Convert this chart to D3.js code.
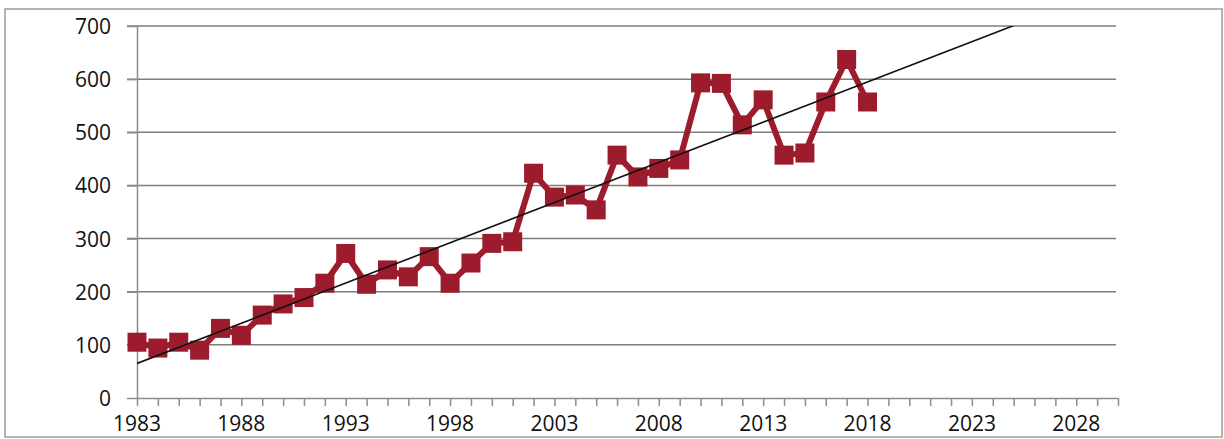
<!DOCTYPE html>
<html lang="en">
<head>
    <meta charset="UTF-8">
    <title>Trend chart</title>
    <style>
        body {
            margin: 0;
            background-color: white;
            font-family: 'Open Sans', sans-serif;
        }
        svg { display: block; }
        .frame { fill: none; stroke: #9a9a9a; stroke-width: 1.5; }
        .grid line { stroke: #7d7d7d; stroke-width: 1.5; }
        .axis line, .axis path { stroke: #8c8c8c; stroke-width: 1.5; }
        .label { font-size: 21px; fill: #111; }
    </style>
</head>
<body>
    <div id="chart"></div>

    <script src="https://d3js.org/d3.v7.min.js"></script>

    <script>
        // data
        var years = d3.range(1983, 2019);
        var values = [105, 94, 105, 90, 131, 118, 156, 177, 189, 216,
                      272, 214, 241, 228, 266, 216, 254, 291, 294, 423,
                      378, 382, 354, 457, 416, 432, 448, 593, 592, 514,
                      561, 457, 461, 557, 637, 557];
        var categories = d3.range(1983, 2031);       // axis runs on to 2030
        var xLabels = d3.range(1983, 2031, 5);       // 1983, 1988 ... 2028
        var yTicks = [0, 100, 200, 300, 400, 500, 600, 700];

        var w = 1224, h = 439;

        var svg = d3.select("#chart")
            .append("svg")
            .attr("width", w)
            .attr("height", h);

        // outer frame
        svg.append("rect")
            .attr("class", "frame")
            .attr("x", 5).attr("y", 9)
            .attr("width", 1217).attr("height", 428);

        var x = d3.scaleLinear()
            .domain([categories[0], categories[categories.length - 1]])
            .range([137, 1118]);

        var y = d3.scaleLinear()
            .domain([0, 700])
            .range([398, 26]);

        // horizontal gridlines (stick out a little left of the axis)
        svg.append("g")
            .attr("class", "grid")
            .selectAll("line")
            .data(yTicks.slice(1))
            .enter()
            .append("line")
            .attr("x1", 127)
            .attr("x2", x(categories[categories.length - 1]) - 2)
            .attr("y1", function(d) { return y(d); })
            .attr("y2", function(d) { return y(d); });

        // y axis
        var yAxis = svg.append("g")
            .attr("class", "axis")
            .attr("transform", "translate(" + x(1983) + ",0)")
            .call(d3.axisLeft(y).tickValues(yTicks).tickSize(10).tickSizeOuter(0));
        yAxis.selectAll("text").remove();

        // x axis, one tick per year
        var xAxis = svg.append("g")
            .attr("class", "axis")
            .attr("transform", "translate(0," + y(0) + ")")
            .call(d3.axisBottom(x).tickValues(categories).tickSize(8).tickSizeOuter(0));
        xAxis.selectAll("text").remove();

        // tick labels
        svg.selectAll(".ylab")
            .data(yTicks)
            .enter()
            .append("text")
            .attr("class", "label")
            .attr("x", 111)
            .attr("y", function(d) { return y(d) + 8; })
            .attr("text-anchor", "end")
            .text(function(d) { return d; });

        svg.selectAll(".xlab")
            .data(xLabels)
            .enter()
            .append("text")
            .attr("class", "label")
            .attr("x", function(d) { return x(d); })
            .attr("y", 431)
            .attr("text-anchor", "middle")
            .text(function(d) { return d; });

        // linear trendline (least squares), forecast forward, clipped to plot
        var mx = d3.mean(years), my = d3.mean(values);
        var sxy = d3.sum(years, function(d, i) { return (d - mx) * (values[i] - my); });
        var sxx = d3.sum(years, function(d) { return (d - mx) * (d - mx); });
        var slope = sxy / sxx;
        var icpt = my - slope * mx;

        svg.append("clipPath")
            .attr("id", "plotclip")
            .append("rect")
            .attr("x", x(1983)).attr("y", y(700))
            .attr("width", x(2030) - x(1983)).attr("height", y(0) - y(700));

        // thick red series with square markers
        var line = d3.line()
            .x(function(d, i) { return x(years[i]); })
            .y(function(d) { return y(d); });

        svg.append("path")
            .datum(values)
            .attr("d", line)
            .attr("fill", "none")
            .attr("stroke", "#9c1c2e")
            .attr("stroke-width", 6)
            .attr("stroke-linejoin", "round");

        svg.selectAll(".marker")
            .data(values)
            .enter()
            .append("rect")
            .attr("x", function(d, i) { return x(years[i]) - 9.5; })
            .attr("y", function(d) { return y(d) - 9.5; })
            .attr("width", 19)
            .attr("height", 19)
            .attr("fill", "#9c1c2e");

        svg.append("line")
            .attr("clip-path", "url(#plotclip)")
            .attr("x1", x(1983)).attr("y1", y(icpt + slope * 1983))
            .attr("x2", x(2030)).attr("y2", y(icpt + slope * 2030))
            .attr("stroke", "#111")
            .attr("stroke-width", 1.6);
    </script>
</body>
</html>
